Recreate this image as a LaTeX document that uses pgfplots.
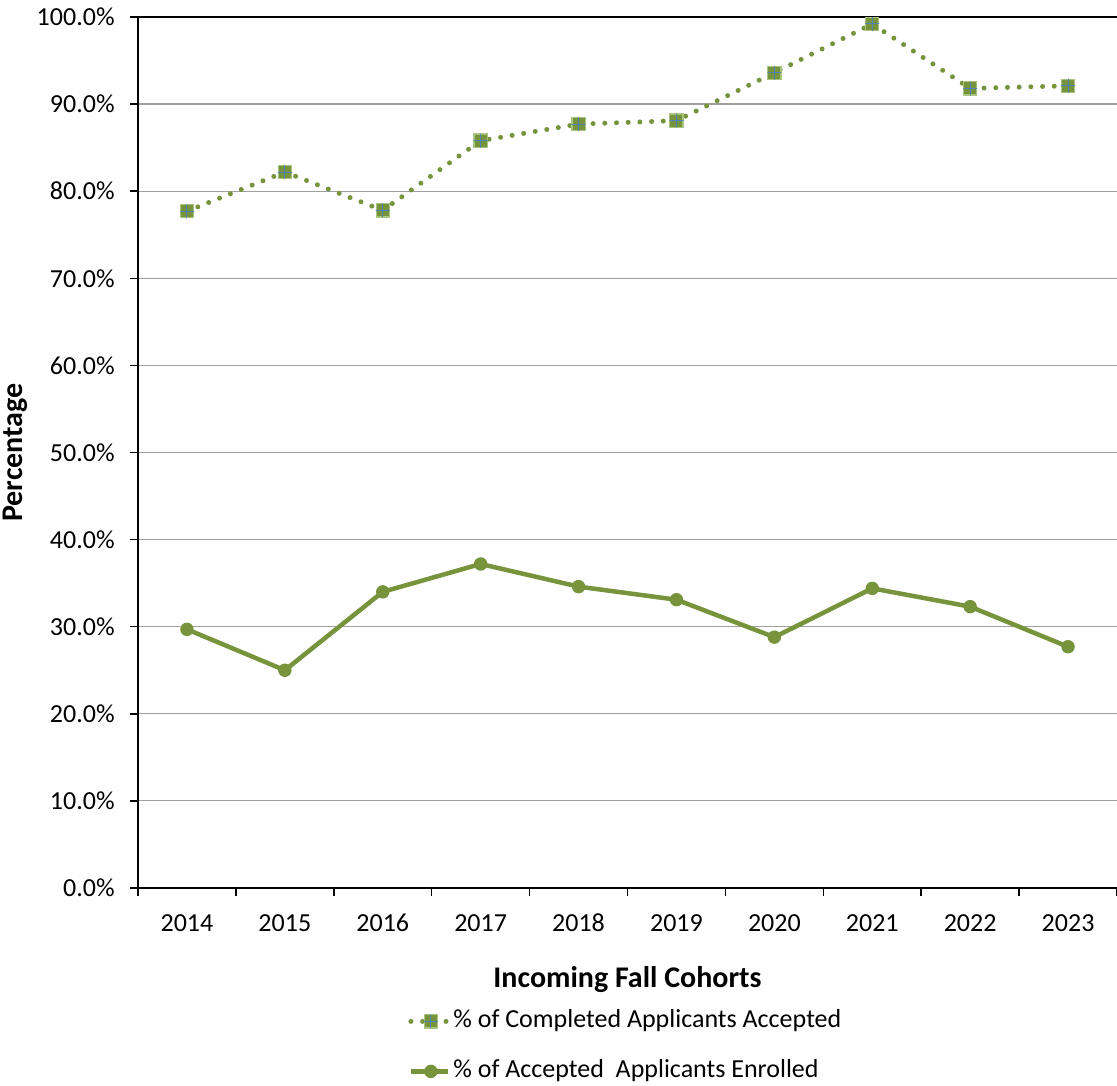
\documentclass[border=0pt]{standalone}
\usepackage{pgfplots}
\pgfplotsset{compat=1.18}
\usepackage{fontspec}
\setmainfont{Carlito}
\definecolor{olive}{HTML}{77933C}
\definecolor{sqborder}{HTML}{A9C47F}
\definecolor{plusblue}{HTML}{4F81BD}
\definecolor{gridgray}{HTML}{A0A0A0}
\pgfdeclareplotmark{sqplus}{%
  \pgfpathrectangle{\pgfpoint{-\pgfplotmarksize}{-\pgfplotmarksize}}{\pgfpoint{2\pgfplotmarksize}{2\pgfplotmarksize}}%
  \pgfusepathqfillstroke
  \begin{pgfscope}%
  \pgfsetstrokecolor{plusblue}%
  \pgfsetlinewidth{0.5pt}%
  \pgfpathmoveto{\pgfpoint{-\pgfplotmarksize}{0pt}}%
  \pgfpathlineto{\pgfpoint{\pgfplotmarksize}{0pt}}%
  \pgfpathmoveto{\pgfpoint{0pt}{-\pgfplotmarksize}}%
  \pgfpathlineto{\pgfpoint{0pt}{\pgfplotmarksize}}%
  \pgfusepathqstroke
  \end{pgfscope}%
}
\pgfplotsset{shortlegend/.style={legend image code/.code={\draw[mark repeat=2,mark phase=2,##1] plot coordinates {(0pt,0pt) (10pt,0pt) (18.5pt,0pt)};}}}
\begin{document}
\begin{tikzpicture}
\path[use as bounding box] (-69pt,-98.5pt) rectangle (489.5pt,444pt);
\begin{axis}[
  at={(0,0)}, anchor=south west, scale only axis,
  width=489.5pt, height=435.5pt,
  xmin=-0.5, xmax=9.5, ymin=0, ymax=100,
  clip=false,
  axis x line*=bottom, axis y line*=left,
  axis line style={black, line width=0.75pt, -},
  xtick={-0.5,0.5,1.5,2.5,3.5,4.5,5.5,6.5,7.5,8.5,9.5},
  x tick label as interval,
  xticklabels={2014,2015,2016,2017,2018,2019,2020,2021,2022,2023},
  ytick={0,10,20,30,40,50,60,70,80,90},
  yticklabels={0.0\%,10.0\%,20.0\%,30.0\%,40.0\%,50.0\%,60.0\%,70.0\%,80.0\%,90.0\%},
  extra y ticks={100}, extra y tick labels={100.0\%},
  extra y tick style={grid style={black, line width=0.75pt}},
  ymajorgrids, grid style={color=gridgray, line width=0.6pt},
  tick align=outside, major tick length=4pt,
  tick style={black, line width=0.75pt},
  tick label style={font=\fontsize{13}{15}\selectfont},
  xticklabel style={anchor=base, inner sep=0pt, yshift=-17.5pt},
  yticklabel style={anchor=east, inner sep=0pt, xshift=-7.5pt},
  every axis x label/.style={at={(axis description cs:0.5,0)}, anchor=base, yshift=-49.5pt, font=\fontsize{15}{18}\selectfont\bfseries},
  every axis y label/.style={at={(axis description cs:0,0.5)}, rotate=90, anchor=base, yshift=57.5pt, font=\fontsize{15}{18}\selectfont\bfseries},
  xlabel={Incoming Fall Cohorts},
  ylabel={Percentage},
  shortlegend,
  legend cell align=left,
  legend style={draw=none, fill=none, at={(0.2758,-0.1389)}, anchor=north west, inner sep=0pt, row sep=13pt,
    nodes={inner sep=0pt, text height=9pt, text depth=3pt, font=\fontsize{13}{15}\selectfont},
    /tikz/every odd column/.append style={column sep=1.5pt}},
]
\addplot[color=olive, line width=2.5pt, line cap=round, dash pattern=on 0pt off 5.85pt,
  mark=sqplus, mark size=3.3pt, mark options={solid, line width=0.6pt, draw=sqborder, fill=olive}]
  coordinates {(0,77.7) (1,82.2) (2,77.8) (3,85.8) (4,87.7) (5,88.1) (6,93.6) (7,99.2) (8,91.8) (9,92.1)};
\addlegendentry{\% of Completed Applicants Accepted}
\addplot[color=olive, line width=2.25pt, mark=*, mark size=3.1pt, mark options={solid, draw=olive, fill=olive, line width=0.5pt}]
  coordinates {(0,29.7) (1,25.0) (2,34.0) (3,37.2) (4,34.6) (5,33.1) (6,28.8) (7,34.4) (8,32.3) (9,27.7)};
\addlegendentry{\% of Accepted\ \ Applicants Enrolled}
\end{axis}
\end{tikzpicture}
\end{document}
